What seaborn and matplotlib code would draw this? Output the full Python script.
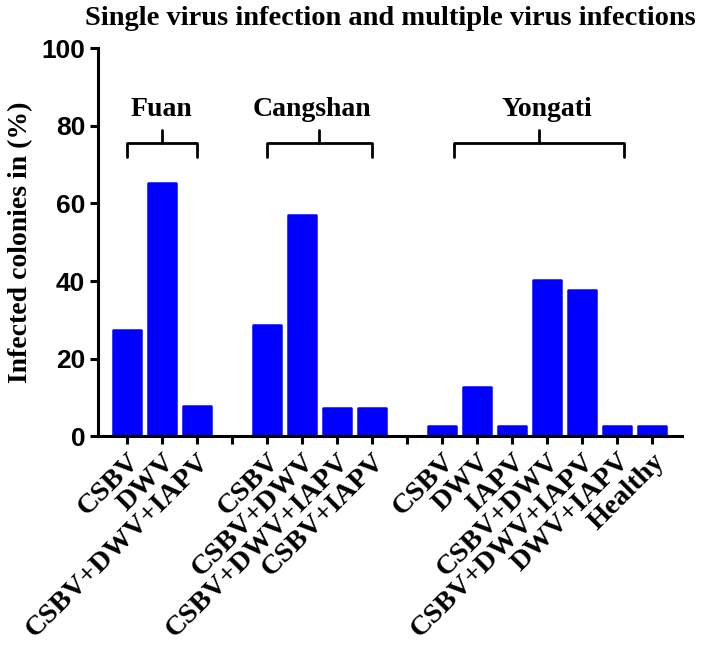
import numpy as np
import pandas as pd
import seaborn as sns
import matplotlib.pyplot as plt

# -----------------------------
# Data
# -----------------------------
groups = ["Fuan", "Cangshan", "Yongati"]
fuan_labels = ["CSBV", "DWV", "CSBV+DWV+IAPV"]
fuan_values = [27.3, 65.3, 7.8]
cangshan_labels = ["CSBV", "CSBV+DWV", "CSBV+DWV+IAPV", "CSBV+IAPV"]
cangshan_values = [28.6, 57.1, 7.3, 7.3]
yongati_labels = ["CSBV", "DWV", "IAPV", "CSBV+DWV", "CSBV+DWV+IAPV", "DWV+IAPV", "Healthy"]
yongati_values = [2.6, 12.8, 2.6, 40.2, 37.7, 2.6, 2.6]

# build a table, one empty slot between groups
rows = []
order = []
tick_text = []
for gi, (g, labs, vals) in enumerate(zip(groups,
                                          [fuan_labels, cangshan_labels, yongati_labels],
                                          [fuan_values, cangshan_values, yongati_values])):
    for lab, v in zip(labs, vals):
        key = f"{g}|{lab}"
        rows.append({"key": key, "value": v})
        order.append(key)
        tick_text.append(lab)
    if gi < len(groups) - 1:
        order.append(f"gap{gi}")
        tick_text.append("")
df = pd.DataFrame(rows)

# -----------------------------
# Plot
# -----------------------------
sns.set_style("ticks", {"axes.edgecolor": "black", "xtick.color": "black",
                        "ytick.color": "black", "text.color": "black",
                        "axes.labelcolor": "black"})
serif = ["Liberation Serif", "DejaVu Serif"]
sans = ["Liberation Sans", "DejaVu Sans"]

fig = plt.figure(figsize=(7.09, 6.61), dpi=100)
ax = fig.add_axes([0.138, 0.34, 0.824, 0.587])

sns.barplot(data=df, x="key", y="value", order=order, color="#0000FF",
            saturation=1, width=0.79, ax=ax)
# soft corners like the original
for p in ax.patches:
    p.set_edgecolor("#0000FF")
    p.set_linewidth(1.8)
    p.set_joinstyle("round")

ax.set_ylim(0, 100)
ax.set_xlim(-0.83, len(order) - 1 + 0.86)
ax.set_yticks([0, 20, 40, 60, 80, 100])
ax.set_xticks(range(len(order)))
ax.set_xticklabels(tick_text, rotation=45, ha="right", rotation_mode="anchor",
                   family=serif, fontweight="bold", fontsize=20.5)
for t in ax.get_yticklabels():
    t.set_family(sans)
    t.set_fontweight("bold")
    t.set_fontsize(19)

ax.set_xlabel("")
ax.set_ylabel("Infected colonies in (%)", family=serif, fontweight="bold",
              fontsize=20, labelpad=6)
fig.text(0.55, 0.972, "Single virus infection and multiple virus infections",
         ha="center", va="center", family=serif, fontweight="bold", fontsize=20.5)

sns.despine(ax=ax)
for s in ["left", "bottom"]:
    ax.spines[s].set_linewidth(2.2)
    ax.spines[s].set_zorder(5)
ax.tick_params(axis="both", width=2.2, length=6, direction="out", pad=3)

# group braces
brace_spans = [(0, 2), (4, 7), (9.35, 14.2)]
label_x = [1, 5.3, 12.0]
for g, (x0, x1), lx in zip(groups, brace_spans, label_x):
    mid = (x0 + x1) / 2
    ax.plot([x0, x0, x1, x1], [72, 75.5, 75.5, 72], color="black", lw=2,
            solid_capstyle="round", solid_joinstyle="round")
    ax.plot([mid, mid], [75.5, 79], color="black", lw=2, solid_capstyle="round")
    ax.text(lx, 81, g, ha="center", va="bottom", family=serif,
            fontweight="bold", fontsize=20)

fig.savefig("out.png", dpi=100)
